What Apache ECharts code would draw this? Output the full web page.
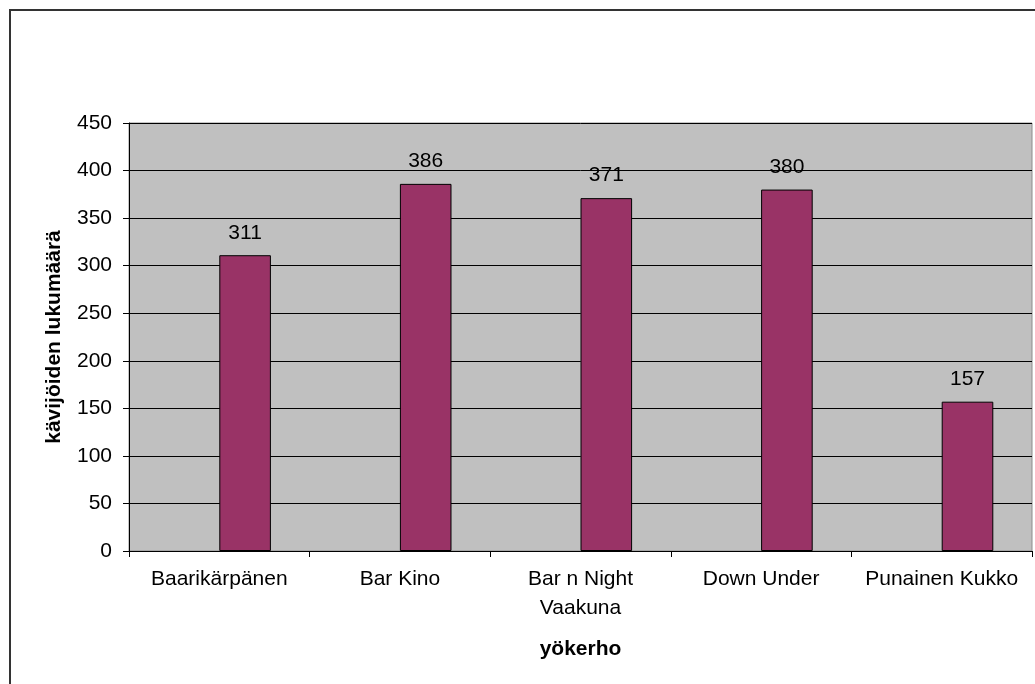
<!DOCTYPE html>
<html>
<head>
<meta charset="utf-8">
<script src="https://cdn.jsdelivr.net/npm/echarts@6/dist/echarts.min.js"></script>
<style>
  html, body { margin: 0; padding: 0; background: #fff; }
  #chart { width: 1035px; height: 684px; }
</style>
</head>
<body>
<div id="chart"></div>
<script>
// Nightclub visitor counts (Excel-style column chart).
const categories = ['Baarikärpänen', 'Bar Kino', 'Bar n Night\nVaakuna', 'Down Under', 'Punainen Kukko'];
const visitors = [311, 386, 371, 380, 157];
// The original sheet has an empty first series, which pushes the bars right of centre.
const emptySeries = ['-', '-', '-', '-', '-'];
const yTicks = { min: 0, max: 450, interval: 50 };

const FONT = '"Liberation Sans", Arial, sans-serif';

const chart = echarts.init(document.getElementById('chart'), null, { renderer: 'canvas' });

chart.setOption({
  animation: false,
  backgroundColor: '#ffffff',
  textStyle: { fontFamily: FONT, color: '#000' },
  graphic: [{
    type: 'rect',
    shape: { x: 10, y: 10, width: 1040, height: 700 },
    style: { fill: 'none', stroke: '#333', lineWidth: 2 },
    silent: true
  }],
  grid: {
    left: 129, right: 3, top: 123, bottom: 133,
    show: true,
    backgroundColor: '#c0c0c0',
    borderColor: '#8c8c8c',
    borderWidth: 1
  },
  xAxis: {
    type: 'category',
    data: categories,
    name: 'yökerho',
    nameLocation: 'middle',
    nameGap: 88,
    nameTextStyle: { fontFamily: FONT, fontSize: 21, fontWeight: 'bold', color: '#000' },
    axisLine: { show: true, lineStyle: { color: '#000', width: 1 } },
    axisTick: { show: true, length: 6, alignWithLabel: false, lineStyle: { color: '#000' } },
    axisLabel: {
      interval: 0, margin: 14, fontFamily: FONT, fontSize: 21, color: '#000',
      lineHeight: 29, align: 'center'
    },
    splitLine: { show: false }
  },
  yAxis: {
    type: 'value',
    min: yTicks.min, max: yTicks.max, interval: yTicks.interval,
    name: 'kävijöiden lukumäärä',
    nameLocation: 'middle',
    nameRotate: 90,
    nameGap: 64,
    nameTextStyle: { fontFamily: FONT, fontSize: 21, fontWeight: 'bold', color: '#000' },
    axisLine: { show: true, lineStyle: { color: '#000', width: 1 } },
    axisTick: { show: true, length: 6, inside: false, lineStyle: { color: '#000' } },
    axisLabel: { margin: 17, fontFamily: FONT, fontSize: 21, color: '#000' },
    splitLine: { show: true, lineStyle: { color: '#000', width: 1 } }
  },
  series: [
    {
      name: 'empty',
      type: 'bar',
      data: emptySeries,
      barGap: '0%',
      barCategoryGap: '42.86%'
    },
    {
      name: 'kävijät',
      type: 'bar',
      data: visitors,
      barGap: '0%',
      barCategoryGap: '42.86%',
      itemStyle: { color: '#993366', borderColor: '#000', borderWidth: 1 },
      label: {
        show: true, position: 'top', distance: 12,
        fontFamily: FONT, fontSize: 21, color: '#000'
      }
    }
  ]
});
</script>
</body>
</html>
